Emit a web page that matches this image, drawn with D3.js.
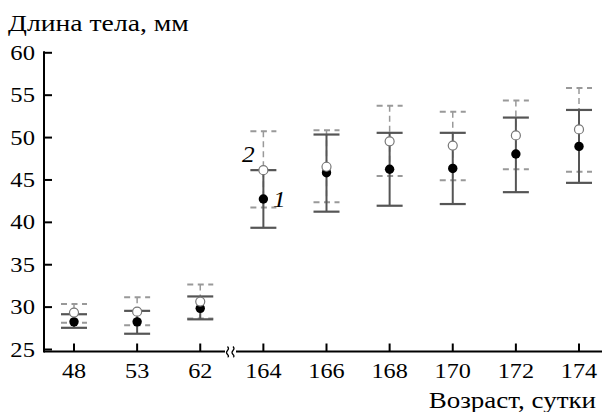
<!DOCTYPE html>
<html>
<head>
    <meta charset="utf-8" />
    <script src="https://d3js.org/d3.v7.min.js"></script>
    <style>
        body { margin: 0; background: #fff; }
        .axis path, .axis line { stroke: #000; stroke-width: 2; fill: none; }
    </style>
</head>
<body>
<script>
    // categories (age, days)
    var ages = ["48", "53", "62", "164", "166", "168", "170", "172", "174"];
    var yTicks = [25, 30, 35, 40, 45, 50, 55, 60];

    // series 1 (filled dots, solid bars)
    var mean1 = [28.2, 28.2, 29.8, 42.7, 45.8, 46.2, 46.3, 48.0, 48.9];
    var low1  = [27.5, 26.8, 28.5, 39.3, 41.2, 41.9, 42.1, 43.5, 44.6];
    var high1 = [29.1, 29.5, 31.2, 46.1, 50.3, 50.5, 50.5, 52.3, 53.2];

    // series 2 (open dots, dashed bars)
    var mean2 = [29.3, 29.4, 30.6, 46.1, 46.5, 49.5, 49.0, 50.2, 50.9];
    var low2  = [28.1, 27.8, 28.6, 41.7, 42.3, 45.4, 44.9, 46.2, 45.9];
    var high2 = [30.3, 31.1, 32.6, 50.7, 50.8, 53.7, 53.0, 54.3, 55.8];

    var width = 602, height = 412;
    var serif = "'Liberation Serif', 'Times New Roman', Times, serif";

    var svg = d3.select("body").append("svg")
        .attr("width", width)
        .attr("height", height)
        .attr("font-family", serif);

    // the original lettering is a bit wider than Times, so stretch it
    function label(px, py, txt, anchor, size, sx, italic) {
        return svg.append("text")
            .attr("transform", "translate(" + px + "," + py + ") scale(" + sx + ",1)")
            .attr("text-anchor", anchor)
            .attr("font-family", serif)
            .attr("font-size", size)
            .attr("font-style", italic ? "italic" : null)
            .attr("fill", "#000")
            .text(txt);
    }

    var x = d3.scalePoint()
        .domain(ages)
        .range([74, 579]);

    var y = d3.scaleLinear()
        .domain([25, 60])
        .range([349, 52.3]);

    var axisY = 351.5;

    // x axis line (broken between 62 and 164)
    svg.append("line")
        .attr("x1", 44).attr("x2", 225)
        .attr("y1", axisY).attr("y2", axisY)
        .attr("stroke", "#000").attr("stroke-width", 2);
    svg.append("line")
        .attr("x1", 236).attr("x2", 602)
        .attr("y1", axisY).attr("y2", axisY)
        .attr("stroke", "#000").attr("stroke-width", 2);

    // break mark
    [227.5, 233].forEach(function (bx) {
        svg.append("path")
            .attr("d", "M" + bx + "," + (axisY - 5) +
                " q2,2 0,4 q-2,2 0,4 q2,2 0,2.5")
            .attr("fill", "none")
            .attr("stroke", "#000")
            .attr("stroke-width", 1.2);
    });

    // x ticks (inside) and labels
    var xt = svg.append("g").attr("class", "axis");
    xt.selectAll("line")
        .data(ages)
        .enter().append("line")
        .attr("x1", function (d) { return x(d); })
        .attr("x2", function (d) { return x(d); })
        .attr("y1", axisY - 8)
        .attr("y2", axisY);
    ages.forEach(function (d) {
        label(x(d), 378, d, "middle", 22, 1.1);
    });

    // y axis
    var yAxis = d3.axisRight(y)
        .tickValues(yTicks)
        .tickSize(8)
        .tickFormat("");

    var gy = svg.append("g")
        .attr("class", "axis")
        .attr("transform", "translate(44,0)")
        .call(yAxis);
    gy.select(".domain").remove();
    gy.append("line")
        .attr("x1", 0).attr("x2", 0)
        .attr("y1", y(60) - 1).attr("y2", axisY + 1);
    yTicks.forEach(function (t) {
        label(35, y(t) + 7.5, d3.format("d")(t), "end", 22, 1.12);
    });

    // titles
    label(8, 31, "Длина тела, мм", "start", 22.5, 1.23);
    label(596, 408, "Возраст, сутки", "end", 22.5, 1.2);

    var idx = d3.range(ages.length);
    var cap = 13;

    // series 2: dashed bars, open circles
    var s2 = svg.append("g");
    s2.selectAll(".v2").data(idx).enter().append("line")
        .attr("x1", function (i) { return x(ages[i]); })
        .attr("x2", function (i) { return x(ages[i]); })
        .attr("y1", function (i) { return y(high2[i]); })
        .attr("y2", function (i) { return y(low2[i]); })
        .attr("stroke", "#999").attr("stroke-width", 1.5)
        .attr("stroke-dasharray", "6,4");
    [high2, low2].forEach(function (arr) {
        s2.selectAll(null).data(idx).enter().append("line")
            .attr("x1", function (i) { return x(ages[i]) - cap; })
            .attr("x2", function (i) { return x(ages[i]) + cap; })
            .attr("y1", function (i) { return y(arr[i]); })
            .attr("y2", function (i) { return y(arr[i]); })
            .attr("stroke", "#999").attr("stroke-width", 2)
            .attr("stroke-dasharray", "6,4.5");
    });

    // series 1: solid bars
    var s1 = svg.append("g");
    s1.selectAll(".v1").data(idx).enter().append("line")
        .attr("x1", function (i) { return x(ages[i]); })
        .attr("x2", function (i) { return x(ages[i]); })
        .attr("y1", function (i) { return y(high1[i]); })
        .attr("y2", function (i) { return y(low1[i]); })
        .attr("stroke", "#555").attr("stroke-width", 2);
    [high1, low1].forEach(function (arr) {
        s1.selectAll(null).data(idx).enter().append("line")
            .attr("x1", function (i) { return x(ages[i]) - cap; })
            .attr("x2", function (i) { return x(ages[i]) + cap; })
            .attr("y1", function (i) { return y(arr[i]); })
            .attr("y2", function (i) { return y(arr[i]); })
            .attr("stroke", "#555").attr("stroke-width", 2.2);
    });

    // markers
    svg.selectAll(".dot1").data(idx).enter().append("circle")
        .attr("cx", function (i) { return x(ages[i]); })
        .attr("cy", function (i) { return y(mean1[i]); })
        .attr("r", 4.7)
        .attr("fill", "#000");

    svg.selectAll(".dot2").data(idx).enter().append("circle")
        .attr("cx", function (i) { return x(ages[i]); })
        .attr("cy", function (i) { return y(mean2[i]); })
        .attr("r", 4.5)
        .attr("fill", "#fff")
        .attr("stroke", "#777")
        .attr("stroke-width", 1.2);

    // series labels
    label(x("164") - 15, y(mean2[3]) - 8, "2", "middle", 23, 1.1, true);
    label(x("164") + 16, y(mean1[3]) + 8, "1", "middle", 23, 1.1, true);
</script>
</body>
</html>
